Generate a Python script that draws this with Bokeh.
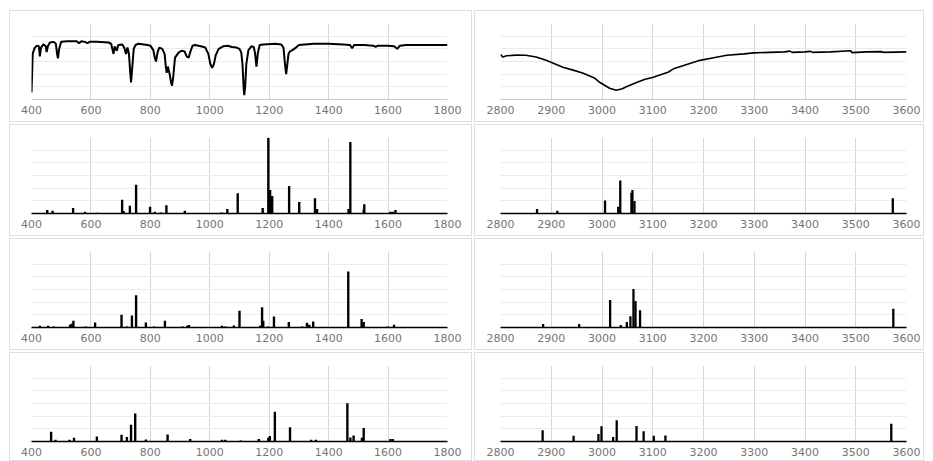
from bokeh.plotting import figure
from bokeh.layouts import row, column
from bokeh.models import FixedTicker, Range1d
from bokeh.embed import file_html
from bokeh.resources import INLINE

# ---------------- data ----------------
left_ticks = [400, 600, 800, 1000, 1200, 1400, 1600, 1800]
right_ticks = [2800, 2900, 3000, 3100, 3200, 3300, 3400, 3500, 3600]

# experimental IR spectrum, fingerprint region
ir_left_x = [400, 402, 404, 410, 418, 425, 428, 432, 440, 448, 451, 455, 462, 475, 482, 486, 489, 493,
             500, 520, 552, 560, 568, 580, 588, 596, 620, 660, 668, 676, 680, 687, 692, 705, 712, 718,
             723, 728, 732, 735, 739, 744, 750, 760, 790, 800, 810, 815, 819, 824, 830, 840, 848, 852,
             855, 859, 865, 870, 873, 877, 883, 895, 905, 915, 922, 929, 935, 942, 950, 970, 985, 995,
             1002, 1008, 1014, 1020, 1030, 1045, 1060, 1075, 1090, 1100, 1106, 1110, 1114, 1116, 1119,
             1123, 1130, 1140, 1148, 1152, 1157, 1162, 1168, 1180, 1220, 1240, 1248, 1253, 1257, 1261,
             1265, 1270, 1278, 1290, 1300, 1320, 1350, 1400, 1450, 1472, 1479, 1486, 1520, 1550, 1558,
             1566, 1600, 1620, 1631, 1640, 1660, 1700, 1800]
ir_left_y = [0.55, 2.0, 3.6, 4.05, 4.25, 4.2, 3.4, 4.1, 4.35, 4.2, 3.75, 4.2, 4.5, 4.55, 4.4, 3.6, 3.25, 4.0,
             4.55, 4.6, 4.6, 4.45, 4.6, 4.55, 4.45, 4.55, 4.55, 4.5, 4.4, 3.6, 4.2, 3.85, 4.3, 4.35, 4.1, 3.6,
             4.1, 3.6, 2.2, 1.35, 2.5, 4.0, 4.3, 4.4, 4.3, 4.25, 3.9, 3.3, 3.0, 3.7, 4.1, 4.0, 3.6, 2.6,
             2.1, 2.6, 2.0, 1.3, 1.1, 1.8, 3.3, 3.7, 3.85, 3.8, 3.4, 3.3, 3.8, 4.25, 4.3, 4.2, 4.1, 3.6,
             2.8, 2.5, 2.8, 3.5, 4.0, 4.2, 4.25, 4.15, 4.1, 4.0, 3.7, 2.8, 0.9, 0.35, 1.0,
             2.8, 3.9, 4.2, 4.15, 3.7, 2.6, 3.7, 4.3, 4.35, 4.4, 4.35, 4.1, 2.8, 2.0, 2.8,
             3.6, 3.8, 3.9, 4.1, 4.3, 4.35, 4.4, 4.4, 4.35, 4.3, 4.05, 4.3, 4.3, 4.25, 4.15,
             4.25, 4.25, 4.2, 4.0, 4.25, 4.3, 4.3, 4.3]

# experimental IR spectrum, C-H / O-H region
ir_right_x = [2800, 2805, 2812, 2830, 2850, 2870, 2890, 2903, 2923, 2945, 2963, 2985, 2996, 3015, 3028,
              3040, 3048, 3068, 3085, 3101, 3130, 3141, 3170, 3193, 3220, 3246, 3280, 3299, 3360, 3370,
              3375, 3400, 3410, 3415, 3450, 3490, 3493, 3520, 3550, 3555, 3600]
ir_right_y = [3.55, 3.35, 3.45, 3.5, 3.49, 3.35, 3.1, 2.88, 2.55, 2.3, 2.07, 1.7, 1.34, 0.89, 0.73,
              0.85, 1.0, 1.34, 1.6, 1.75, 2.15, 2.42, 2.8, 3.09, 3.3, 3.49, 3.6, 3.68, 3.76, 3.82,
              3.72, 3.76, 3.8, 3.72, 3.76, 3.85, 3.7, 3.76, 3.78, 3.72, 3.76]

# calculated spectrum 1
calc1_left_x = [453, 471, 540, 580, 622, 705, 710, 731, 752, 799, 815, 836, 854, 916, 1039, 1059, 1094,
                1178, 1197, 1203, 1210, 1267, 1301, 1354, 1361, 1467, 1473, 1518, 1520, 1608, 1616, 1625]
calc1_left_h = [0.27, 0.22, 0.43, 0.14, 0.05, 1.09, 0.2, 0.62, 2.26, 0.54, 0.14, 0.08, 0.65, 0.22, 0.08,
                0.35, 1.6, 0.43, 5.98, 1.85, 1.39, 2.17, 0.9, 1.2, 0.35, 0.35, 5.65, 0.3, 0.73, 0.14,
                0.14, 0.27]
calc1_right_x = [2872, 2912, 3006, 3032, 3036, 3058, 3060, 3064, 3573]
calc1_right_h = [0.35, 0.22, 1.03, 0.54, 2.6, 1.63, 1.85, 0.98, 1.2]

# calculated spectrum 2
calc2_left_x = [428, 456, 475, 530, 535, 541, 582, 614, 703, 721, 738, 752, 785, 813, 849, 909, 924, 930,
                1041, 1052, 1081, 1100, 1169, 1176, 1180, 1196, 1216, 1266, 1311, 1327, 1335, 1348, 1466,
                1511, 1518, 1599, 1620]
calc2_left_h = [0.13, 0.13, 0.08, 0.22, 0.3, 0.54, 0.08, 0.4, 1.0, 0.08, 0.94, 2.55, 0.4, 0.08, 0.54, 0.08,
                0.13, 0.19, 0.13, 0.08, 0.16, 1.32, 0.13, 1.6, 0.54, 0.08, 0.86, 0.43, 0.08, 0.38, 0.22,
                0.48, 4.43, 0.67, 0.43, 0.08, 0.22]
calc2_right_x = [2884, 2955, 3016, 3037, 3049, 3056, 3062, 3066, 3075, 3574]
calc2_right_h = [0.27, 0.27, 2.18, 0.19, 0.43, 0.89, 3.04, 2.1, 1.37, 1.48]

# calculated spectrum 3
calc3_left_x = [466, 481, 528, 543, 620, 703, 721, 735, 749, 785, 858, 934, 1041, 1052, 1104, 1165, 1197,
                1202, 1219, 1270, 1341, 1357, 1463, 1473, 1484, 1512, 1518, 1608, 1616]
calc3_left_h = [0.77, 0.13, 0.13, 0.29, 0.4, 0.53, 0.35, 1.33, 2.21, 0.16, 0.56, 0.19, 0.13, 0.13, 0.08,
                0.19, 0.29, 0.43, 2.35, 1.12, 0.13, 0.13, 3.01, 0.32, 0.48, 0.29, 1.07, 0.19, 0.19]
calc3_right_x = [2883, 2944, 2993, 2999, 3022, 3029, 3068, 3082, 3102, 3125, 3570]
calc3_right_h = [0.88, 0.45, 0.59, 1.2, 0.35, 1.68, 1.23, 0.8, 0.45, 0.48, 1.41]

y_grid = [0, 1, 2, 3, 4, 5, 6]

# ---------------- styling ----------------
LEFT_W, RIGHT_W = 463, 450
FONT = "DejaVu Sans"


def panel(side, axis_color, h=112, bottom=24):
    if side == "left":
        xr, ticks, w, bl, br = (400, 1800), left_ticks, LEFT_W, 21, 26
    else:
        xr, ticks, w, bl, br = (2800, 3600), right_ticks, RIGHT_W, 25, 19
    p = figure(width=w, height=h, x_range=Range1d(*xr), y_range=Range1d(0, 6),
               output_backend="svg", toolbar_location=None,
               min_border_left=bl, min_border_right=br, min_border_top=12, min_border_bottom=bottom,
               background_fill_color="white", border_fill_color="white",
               styles={"border": "1px solid #dedede"})
    p.outline_line_color = None
    p.yaxis.visible = False
    p.yaxis.ticker = FixedTicker(ticks=y_grid)
    p.ygrid.ticker = FixedTicker(ticks=y_grid)
    p.ygrid.grid_line_color = "#ebebeb"
    p.xaxis.ticker = FixedTicker(ticks=ticks)
    p.xgrid.ticker = FixedTicker(ticks=ticks)
    p.xgrid.grid_line_color = "#d6d6d6"
    ax = p.xaxis[0]
    ax.axis_line_color = axis_color
    ax.axis_line_width = 1.5 if axis_color == "black" else 1
    ax.major_tick_line_color = None
    ax.minor_tick_line_color = None
    ax.major_tick_out = 0
    ax.major_tick_in = 0
    ax.major_label_text_font = FONT
    ax.major_label_text_font_size = "11px"
    ax.major_label_text_color = "#757575"
    ax.major_label_standoff = 6
    return p


def line_panel(side, xs, ys, lw):
    p = panel(side, "#c8c8c8")
    p.line(xs, ys, line_color="black", line_width=lw)
    return p


def bar_panel(side, xs, hs, h=112, bottom=24):
    p = panel(side, "black", h=h, bottom=bottom)
    bw = 8 if side == "left" else 4.5
    p.vbar(x=xs, top=hs, bottom=0, width=bw, fill_color="black", line_color=None)
    return p


rows = [
    row(line_panel("left", ir_left_x, ir_left_y, 2.0),
        line_panel("right", ir_right_x, ir_right_y, 1.6), spacing=2),
    row(bar_panel("left", calc1_left_x, calc1_left_h),
        bar_panel("right", calc1_right_x, calc1_right_h), spacing=2),
    row(bar_panel("left", calc2_left_x, calc2_left_h),
        bar_panel("right", calc2_right_x, calc2_right_h), spacing=2),
    row(bar_panel("left", calc3_left_x, calc3_left_h, h=109, bottom=21),
        bar_panel("right", calc3_right_x, calc3_right_h, h=109, bottom=21), spacing=2),
]

layout = column(*rows, spacing=2, margin=(10, 0, 0, 9))

open("out.html", "w").write(file_html(layout, INLINE))
